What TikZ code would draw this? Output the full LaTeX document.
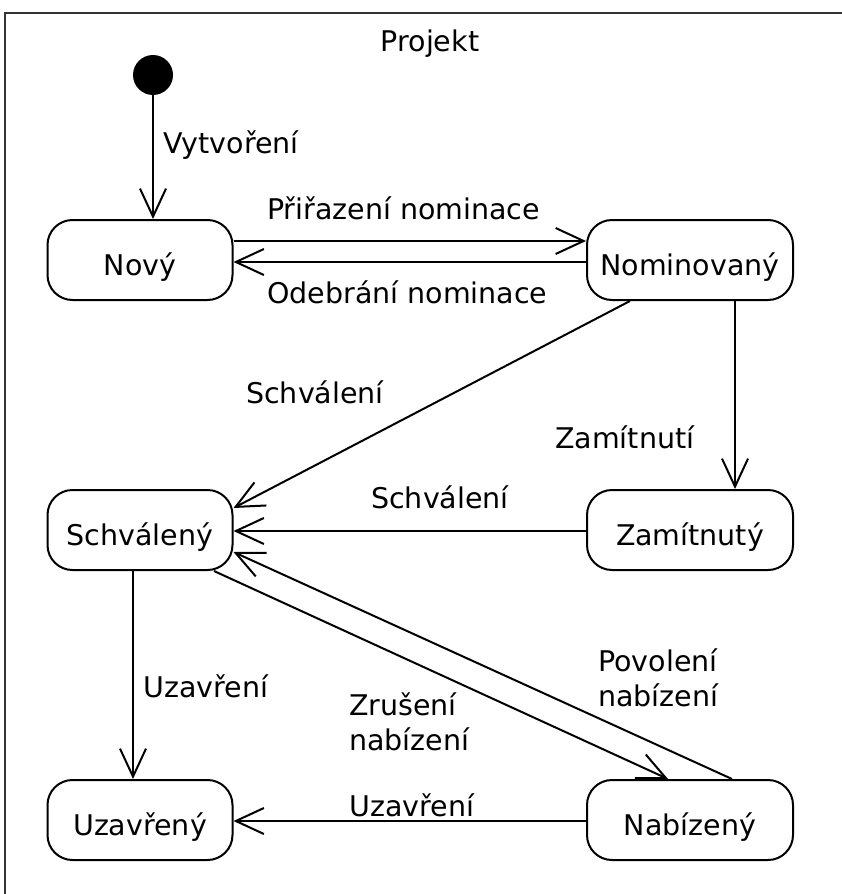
\documentclass[tikz,border=0pt]{standalone}
\usepackage{fontspec}
\setmainfont{DejaVu Sans}
\usetikzlibrary{arrows.meta}
\begin{document}
\begin{tikzpicture}[x=1pt,y=-1pt,
  txt/.style={font=\fontsize{28.5}{35}\selectfont},
  state/.style={draw, line width=2pt, rounded corners=25pt, minimum height=80pt,
    inner sep=0pt, text height=31pt, text depth=0pt, txt},
  leftstate/.style={state, minimum width=185pt},
  rightstate/.style={state, minimum width=206pt},
  trans/.style={line width=2pt, -{Straight Barb[length=28pt,width=26pt]}},
  lbl/.style={txt, inner sep=0pt, anchor=west, align=left},
  initial/.style={circle, fill=black, minimum size=40pt, inner sep=0pt},
]
\useasboundingbox (0,0) rectangle (842,894);
\clip (0,0) rectangle (842,894);

% enclosing frame of the state machine
\draw[line width=2.8pt, black!80] (5,13) rectangle (860,910);
\node[txt] (title) at (430,44) {Projekt};

% states
\node[initial] (init) at (153,75) {};
\node[leftstate]  (novy) at (140,260) {Nový};
\node[rightstate] (nom)  at (690,260) {Nominovaný};
\node[leftstate]  (schv) at (140,530) {Schválený};
\node[rightstate] (zam)  at (690,530) {Zamítnutý};
\node[leftstate]  (uzav) at (140,820) {Uzavřený};
\node[rightstate] (nab)  at (690,820) {Nabízený};

% transitions
\draw[trans] (init.south) -- ([xshift=13pt]novy.north);
\draw[trans] ([yshift=19pt]novy.east) -- ([yshift=19pt]nom.west);
\draw[trans] ([yshift=-2pt]nom.west) -- ([yshift=-2pt]novy.east);
\draw[trans] ([xshift=-60pt]nom.south) -- ([yshift=22pt]schv.east);
\draw[trans] ([xshift=45pt]nom.south) -- ([xshift=45pt]zam.north);
\draw[trans] ([yshift=-1pt]zam.west) -- ([yshift=-1pt]schv.east);
\draw[trans] ([xshift=-7pt]schv.south) -- ([xshift=-7pt]uzav.north);
\draw[trans] ([xshift=74pt]schv.south) -- ([xshift=-22pt]nab.north);
\draw[trans] ([xshift=42pt]nab.north) -- ([yshift=-22pt]schv.east);
\draw[trans] ([yshift=-1pt]nab.west) -- ([yshift=-1pt]uzav.east);

% transition labels
\node[lbl] (lcreate) at (163,145) {Vytvoření};
\node[lbl] (lassign) at (267,208) {Přiřazení nominace};
\node[lbl] (lremove) at (267,292) {Odebrání nominace};
\node[lbl] (lappr1)  at (246,392) {Schválení};
\node[lbl] (lreject) at (555,437) {Zamítnutí};
\node[lbl] (lappr2)  at (371,497) {Schválení};
\node[lbl] (lclose1) at (143,686) {Uzavření};
\node[lbl] (lcancel) at (349,722) {Zrušení\\nabízení};
\node[lbl] (lallow)  at (598,678) {Povolení\\nabízení};
\node[lbl] (lclose2) at (349,805) {Uzavření};
\end{tikzpicture}
\end{document}
